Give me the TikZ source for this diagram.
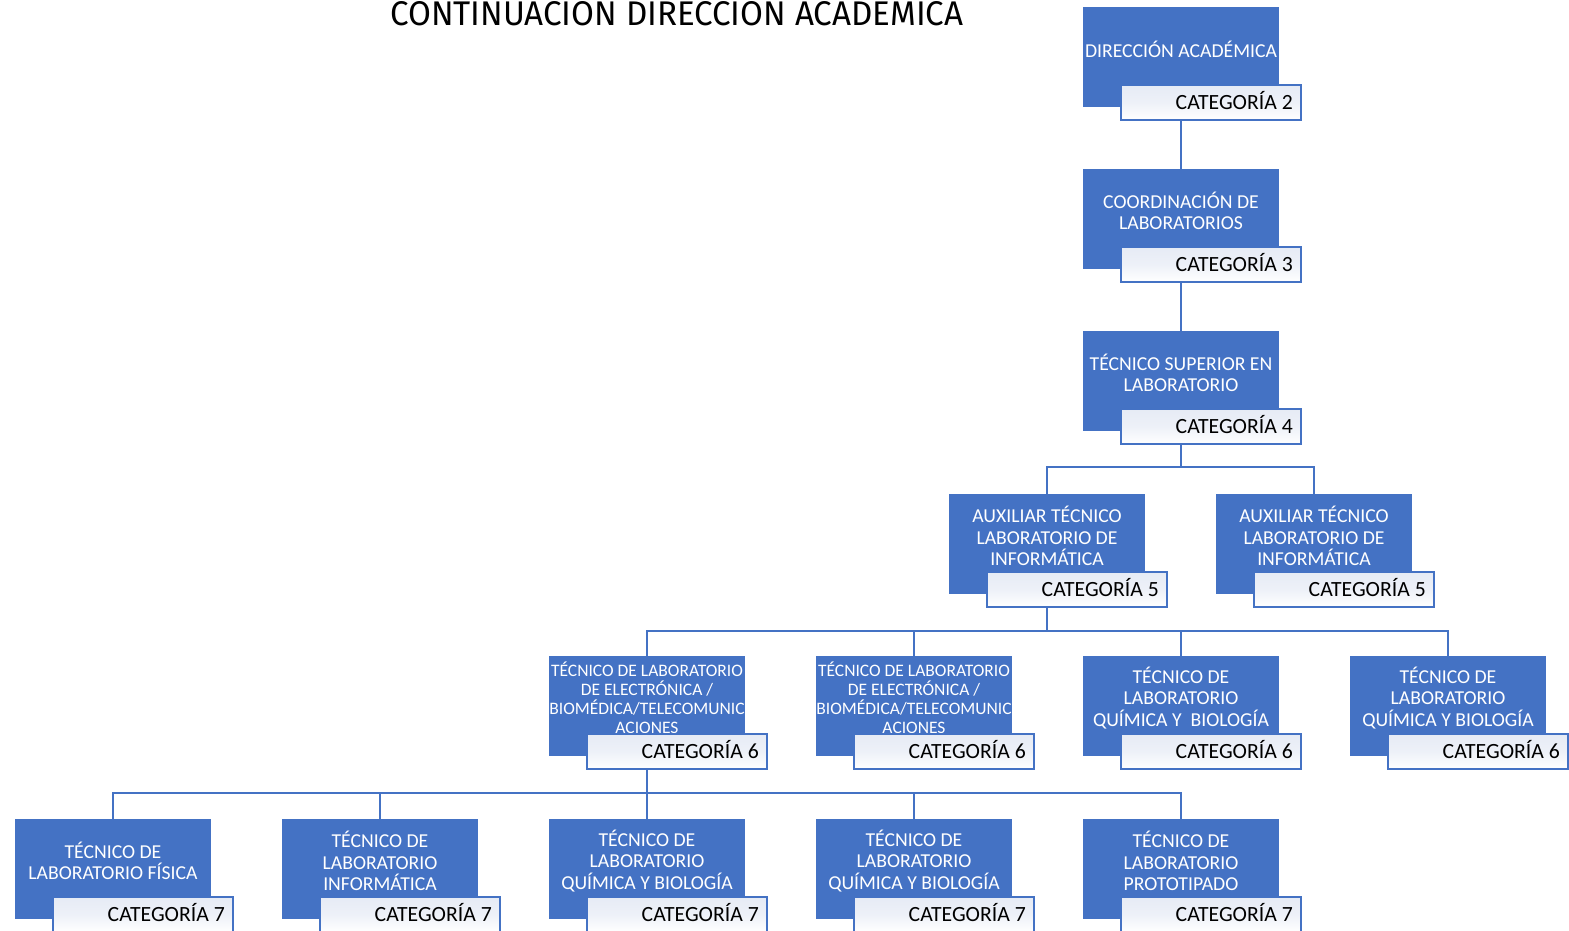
\documentclass[tikz,border=0pt]{standalone}
\usepackage{fontspec}
\setmainfont{Carlito}
\newfontfamily\titlefont{Fira Sans}
\usepackage{graphicx}
\definecolor{accent}{HTML}{4472C4}
\definecolor{linkblue}{HTML}{4472C4}
\definecolor{catlight}{HTML}{E6EBF5}

\tikzset{
  mainbox/.style={rectangle, fill=accent, draw=none, minimum width=196pt,
    minimum height=100pt, inner sep=0pt},
  roletext/.style={text=white, align=center, inner sep=0pt,
    font=\fontsize{19.7}{21.5}\selectfont},
  smallrole/.style={font=\fontsize{17.5}{19}\selectfont},
  catbox/.style={rectangle, draw=accent, line width=1.6pt, top color=catlight,
    bottom color=white, middle color=catlight!70, minimum width=180pt,
    minimum height=35pt, inner sep=0pt},
  cattext/.style={text=black, inner sep=0pt, anchor=base east,
    font=\fontsize{21.7}{26}\selectfont},
  link/.style={draw=linkblue, line width=2pt}
}

% one position of the chart: blue box, its title, and the category tab
% #1 extra text style, #2 name, #3 centre x, #4 top y, #5 title, #6 category
\newcommand\orgunit[6][]{%
  \node[mainbox] (#2) at (#3+1, #4+50) {};
  \node[roletext,#1] (#2t) at (#3+1, #4+42) {#5};
  \node[catbox] (#2c) at (#3+31, #4+95.5) {};
  \node[cattext] (#2k) at (#3+113, #4+102) {CATEGORÍA #6};
}

\begin{document}
\begin{tikzpicture}[x=1pt, y=-1pt]
\useasboundingbox (0,0) rectangle (1569,930);

% bus levels
\coordinate (b4) at (0,467);
\coordinate (b5) at (0,631);
\coordinate (b6) at (0,793);

% connector anchor points at the box centres (hidden behind the boxes)
\path (1181,57) coordinate (a1) (1181,219) coordinate (a2) (1181,381) coordinate (a3);
\path (1047,544) coordinate (a4a) (1314,544) coordinate (a4b);
\path (647,706) coordinate (a5a) (914,706) coordinate (a5b) (1181,706) coordinate (a5c) (1448,706) coordinate (a5d);
\path (113,869) coordinate (a6a) (380,869) coordinate (a6b) (647,869) coordinate (a6c) (914,869) coordinate (a6d) (1181,869) coordinate (a6e);

\draw[link] (a1) -- (a2);
\draw[link] (a2) -- (a3);
\foreach \c in {a4a,a4b}{
  \draw[link] (a3) -- (a3 |- b4) -| (\c);
}
\foreach \c in {a5a,a5b,a5c,a5d}{
  \draw[link] (a4a) -- (a4a |- b5) -| (\c);
}
\foreach \c in {a6a,a6b,a6c,a6d,a6e}{
  \draw[link] (a5a) -- (a5a |- b6) -| (\c);
}

% title
\node[anchor=base west, inner sep=0pt] (title) at (390,25)
  {\resizebox{573pt}{24pt}{\titlefont CONTINUACION DIRECCION ACADEMICA}};

% boxes
\orgunit{d1}{1180}{7}{DIRECCIÓN ACADÉMICA}{2}
\orgunit{d2}{1180}{169}{COORDINACIÓN DE\\LABORATORIOS}{3}
\orgunit{d3}{1180}{331}{TÉCNICO SUPERIOR EN\\LABORATORIO}{4}

\orgunit{d4a}{1046}{494}{AUXILIAR TÉCNICO\\LABORATORIO DE\\INFORMÁTICA}{5}
\orgunit{d4b}{1313}{494}{AUXILIAR TÉCNICO\\LABORATORIO DE\\INFORMÁTICA}{5}

\orgunit[smallrole]{d5a}{646}{656}{TÉCNICO DE LABORATORIO\\DE ELECTRÓNICA /\\BIOMÉDICA/TELECOMUNIC\\ACIONES}{6}
\orgunit[smallrole]{d5b}{913}{656}{TÉCNICO DE LABORATORIO\\DE ELECTRÓNICA /\\BIOMÉDICA/TELECOMUNIC\\ACIONES}{6}
\orgunit{d5c}{1180}{656}{TÉCNICO DE\\LABORATORIO\\QUÍMICA Y\ \ BIOLOGÍA}{6}
\orgunit{d5d}{1447}{656}{TÉCNICO DE\\LABORATORIO\\QUÍMICA Y BIOLOGÍA}{6}

\orgunit{d6a}{112}{819}{TÉCNICO DE\\LABORATORIO FÍSICA}{7}
\orgunit{d6b}{379}{819}{TÉCNICO DE\\LABORATORIO\\INFORMÁTICA}{7}
\orgunit{d6c}{646}{819}{TÉCNICO DE\\LABORATORIO\\QUÍMICA Y BIOLOGÍA}{7}
\orgunit{d6d}{913}{819}{TÉCNICO DE\\LABORATORIO\\QUÍMICA Y BIOLOGÍA}{7}
\orgunit{d6e}{1180}{819}{TÉCNICO DE\\LABORATORIO\\PROTOTIPADO}{7}
\end{tikzpicture}
\end{document}
